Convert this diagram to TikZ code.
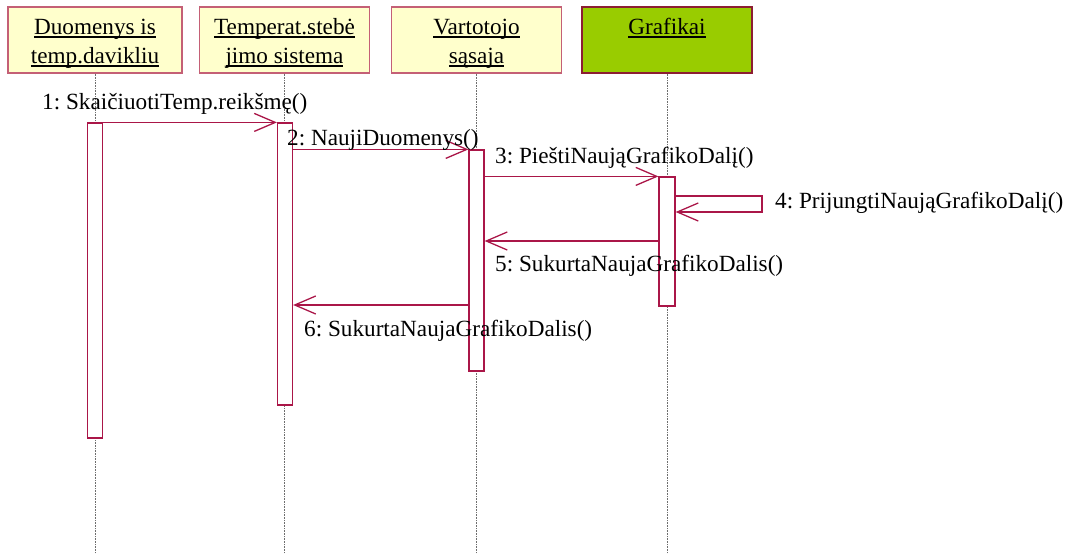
\documentclass[tikz,border=0pt]{standalone}
\usepackage{fontspec}
\setmainfont{Liberation Serif}
\usetikzlibrary{arrows.meta}

\definecolor{objfill}{RGB}{255,255,204}
\definecolor{objline}{RGB}{196,96,118}
\definecolor{grfill}{RGB}{153,204,0}
\definecolor{grline}{RGB}{140,30,50}
\definecolor{msgcol}{RGB}{170,22,72}
\definecolor{lifecol}{RGB}{110,110,110}

% underlined line of text with fixed height and depth
\newcommand\ulstrut{\rule[-6pt]{0pt}{29pt}}
\newcommand\ulin[1]{\setbox0\hbox{#1}\rlap{\rule[-3.6pt]{\wd0}{1.4pt}}\ulstrut\box0}

\begin{document}
\frenchspacing
\begin{tikzpicture}[x=1pt,y=-1pt,
  every node/.style={font=\fontsize{23.2}{29}\selectfont},
  objbox/.style={draw=objline,fill=objfill,line width=1.2pt,
    minimum width=170pt,minimum height=66pt,inner sep=0pt,align=center},
  actbar/.style={draw=msgcol,fill=white,line width=1.2pt,
    minimum width=15pt,inner sep=0pt},
  lifeline/.style={draw=lifecol,line width=0.9pt,dash pattern=on 1pt off 0.6pt},
  msg/.style={draw=msgcol,line width=1.3pt,
    -{Straight Barb[length=21pt,width=18pt,line width=1.3pt]}},
  msglabel/.style={anchor=base west,inner sep=0pt}]
\useasboundingbox (0,0) rectangle (1076,554);

% participants
\node[objbox,minimum width=174pt] (b1) at (95,40) {\ulin{Duomenys is}\\\ulin{temp.davikliu}};
\node[objbox] (b2) at (284.5,40) {\ulin{Temperat.stebė}\\\ulin{jimo sistema}};
\node[objbox] (b3) at (476.5,40) {\ulin{Vartotojo}\\\ulin{sąsaja}};
\node[objbox,draw=grline,fill=grfill] (b4) at (667,40) {\ulin{Grafikai}\\\ulstrut};

% lifelines
\coordinate (bottom) at (0,554);
\foreach \b in {b1,b2,b3,b4}
  \draw[lifeline] (\b.south) -- (\b.south |- bottom);

% activation bars
\node[actbar,minimum height=315pt] (a1) at (95,280.5) {};
\node[actbar,minimum height=282pt] (a2) at (285,264) {};
\node[actbar,minimum height=221pt] (a3) at (476.5,260.5) {};
\node[actbar,minimum width=16pt,minimum height=129pt] (a4) at (667,241.5) {};

% message levels
\coordinate (y4a) at (0,196);
\coordinate (y4b) at (0,212);
\coordinate (y5) at (0,241);
\coordinate (y6) at (0,305);
\coordinate (loop) at (762,0);

% messages
\draw[msg] (a1.north east) -- (a2.north west);
\draw[msg] (a2.east |- a3.north) -- (a3.north west);
\draw[msg] (a3.east |- a4.north) -- (a4.north west);
\draw[msg] (a4.east |- y4a) -- (loop |- y4a) -- (loop |- y4b) -- (a4.east |- y4b);
\draw[msg] (a4.west |- y5) -- (a3.east |- y5);
\draw[msg] (a3.west |- y6) -- (a2.east |- y6);

% message labels
\node[msglabel] (l1) at (42,109) {1: SkaičiuotiTemp.reikšmę()};
\node[msglabel] (l2) at (287,145) {2: NaujiDuomenys()};
\node[msglabel] (l3) at (495,163) {3: PieštiNaująGrafikoDalį()};
\node[msglabel] (l4) at (775,208) {4: PrijungtiNaująGrafikoDalį()};
\node[msglabel] (l5) at (495,271) {5: SukurtaNaujaGrafikoDalis()};
\node[msglabel] (l6) at (304,336) {6: SukurtaNaujaGrafikoDalis()};
\end{tikzpicture}
\end{document}
